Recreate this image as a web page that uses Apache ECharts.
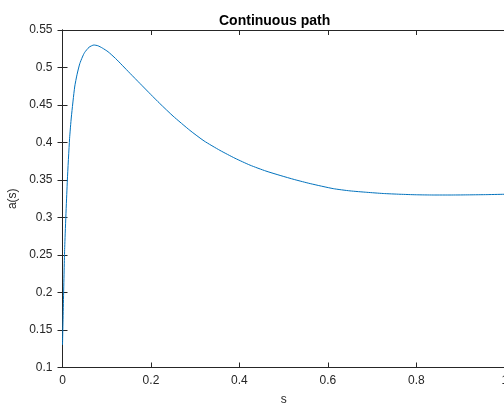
<!DOCTYPE html>
<html>
<head>
<meta charset="utf-8">
<script src="https://cdn.jsdelivr.net/npm/echarts@6/dist/echarts.min.js"></script>
<style>
  html, body { margin: 0; padding: 0; background: #fff; overflow: hidden; }
  #chart { width: 504px; height: 405px; }
</style>
</head>
<body>
<div id="chart"></div>
<script>
// s values (x) and a(s) values
const sValues = [0, 0.005, 0.011, 0.016, 0.02, 0.0275, 0.033, 0.039, 0.045, 0.05,
  0.06, 0.071, 0.08, 0.09, 0.103, 0.12, 0.135, 0.153, 0.175, 0.2,
  0.22, 0.25, 0.288, 0.32, 0.356, 0.39, 0.424, 0.46, 0.492, 0.525,
  0.56, 0.612, 0.65, 0.688, 0.725, 0.763, 0.8, 0.838, 0.88, 0.92, 0.96, 1];
const aValues = [0.13, 0.26, 0.35, 0.405, 0.434, 0.474, 0.491, 0.505, 0.514, 0.520,
  0.527, 0.530, 0.529, 0.526, 0.521, 0.512, 0.503, 0.492, 0.4788, 0.4638,
  0.452, 0.4352, 0.4162, 0.4021, 0.3895, 0.379, 0.3698, 0.3619, 0.3561, 0.3505,
  0.3452, 0.3385, 0.3355, 0.3336, 0.332, 0.331, 0.3303, 0.330, 0.330, 0.3302, 0.3305, 0.331];

const axisColor = "#262626";
const font = "'Liberation Sans', Arial, Helvetica, sans-serif";

let myChart = echarts.init(document.getElementById("chart"));

// 上下左右四条边框都画出来（MATLAB 风格）
let boxAxis = {
  type: "value",
  axisLine: { show: true, lineStyle: { color: axisColor, width: 1 } },
  axisTick: { show: true, inside: true, length: 5, lineStyle: { color: axisColor } },
  axisLabel: { show: false },
  splitLine: { show: false },
};

myChart.setOption({
  animation: false,
  textStyle: { fontFamily: font },
  title: {
    text: "Continuous path",
    left: 214,
    top: 9,
    textStyle: { fontSize: 14, fontWeight: "bold", color: "#000", fontFamily: font },
  },
  grid: {
    left: 62.5,
    top: 30,
    width: 442.3,
    height: 337.5,
    containLabel: false,
    outerBoundsMode: "none",
  },
  xAxis: [
    Object.assign({}, boxAxis, {
      position: "bottom",
      min: 0,
      max: 1,
      interval: 0.2,
      name: "s",
      nameLocation: "middle",
      nameGap: 26,
      nameTextStyle: { fontSize: 12, color: axisColor },
      axisLabel: { show: true, fontSize: 12, color: axisColor, margin: 7 },
    }),
    Object.assign({}, boxAxis, { position: "top", min: 0, max: 1, interval: 0.2 }),
  ],
  yAxis: [
    Object.assign({}, boxAxis, {
      position: "left",
      min: 0.1,
      max: 0.55,
      interval: 0.05,
      name: "a(s)",
      nameLocation: "middle",
      nameGap: 44,
      nameTextStyle: { fontSize: 12, color: axisColor },
      axisLabel: { show: true, fontSize: 12, color: axisColor, margin: 10 },
    }),
    Object.assign({}, boxAxis, { position: "right", min: 0.1, max: 0.55, interval: 0.05 }),
  ],
  series: [
    {
      type: "line",
      data: sValues.map((s, i) => [s, aValues[i]]),
      showSymbol: false,
      smooth: 0.2,
      lineStyle: { color: "#0072BD", width: 1 },
      itemStyle: { color: "#0072BD" },
    },
  ],
});
</script>
</body>
</html>
